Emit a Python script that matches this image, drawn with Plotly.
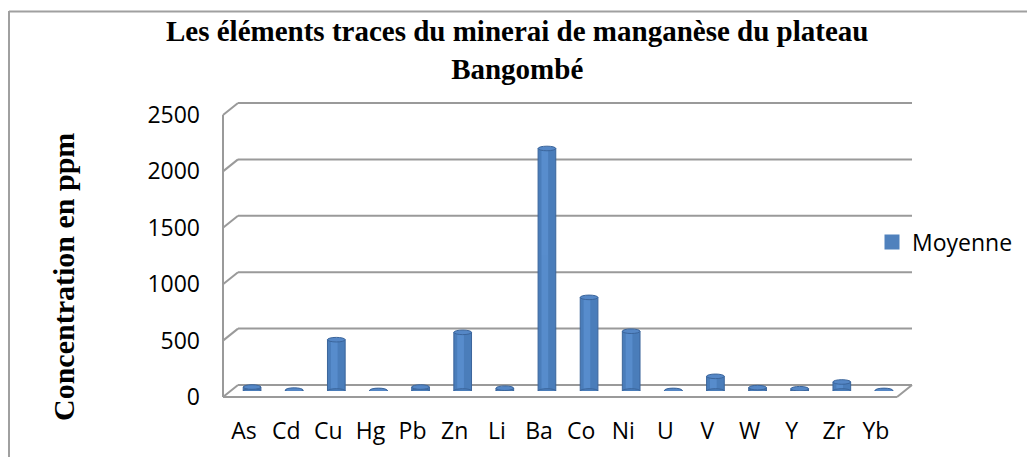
import plotly.graph_objects as go

# data (ppm)
elements = ["As", "Cd", "Cu", "Hg", "Pb", "Zn", "Li", "Ba", "Co", "Ni", "U", "V", "W", "Y", "Zr", "Yb"]
moyenne = [35, 8, 455, 5, 35, 520, 25, 2150, 830, 530, 5, 130, 30, 20, 80, 5]
y_ticks = [0, 500, 1000, 1500, 2000, 2500]

W, H = 1035, 457
OFF = 8                               # page body margin around the figure
Y_MAX = 2500
PLANE_W, PLANE_H = 674, 282          # pixel size of one wall
# left edge / zero line of the three depth planes (back wall, bars, front edge)
BACK = (238, 385)
MID = (231, 391)
FRONT = (223, 397)

TICK_FONT = dict(family="'Open Sans', sans-serif", size=23, color="black")
SERIF = "'Times New Roman', 'Liberation Serif', serif"
GRID = "#9a9a9a"
BAR = "#4A7DBA"
BAR_EDGE = "#3B659B"


def px(x):
    return (x - OFF) / W


def py(y):
    return 1 - (y - OFF) / H


def xdom(plane):
    return [px(plane[0]), px(plane[0] + PLANE_W)]


def ydom(plane):
    return [py(plane[1]), py(plane[1] - PLANE_H)]


def yval(plane, v):
    return py(plane[1] - v / Y_MAX * PLANE_H)


fig = go.Figure()

# cylinder body
fig.add_trace(go.Bar(
    x=elements, y=moyenne, name="Moyenne", width=0.42,
    marker=dict(color=BAR, line=dict(color=BAR_EDGE, width=1)),
    xaxis="x", yaxis="y", showlegend=False,
))
# highlight stripe for the rounded look
fig.add_trace(go.Bar(
    x=elements, y=moyenne, width=0.16, offset=-0.13,
    marker=dict(color="#5A8FD0", line=dict(width=0)), opacity=0.85,
    xaxis="x", yaxis="y", showlegend=False, hoverinfo="skip",
))
# legend entry with a bigger square swatch
fig.add_trace(go.Scatter(
    x=[None], y=[None], mode="markers", name="Moyenne",
    marker=dict(symbol="square", size=15, color="#4F81BD"),
    xaxis="x", yaxis="y", showlegend=True,
))
# invisible helpers so the front axes get drawn
fig.add_trace(go.Scatter(
    x=elements, y=moyenne, mode="markers", marker=dict(opacity=0),
    xaxis="x3", yaxis="y3", showlegend=False, hoverinfo="skip",
))

shapes = []
# cylinder end caps
cap = 2.3 / PLANE_H * Y_MAX
for i, v in enumerate(moyenne):
    shapes.append(dict(type="circle", xref="x", yref="y", x0=i - 0.21, x1=i + 0.21,
                       y0=-cap, y1=cap, fillcolor=BAR,
                       line=dict(color=BAR_EDGE, width=1), layer="above"))
    shapes.append(dict(type="circle", xref="x", yref="y", x0=i - 0.21, x1=i + 0.21,
                       y0=v - cap, y1=v + cap, fillcolor="#5587C6",
                       line=dict(color=BAR_EDGE, width=1), layer="above"))

# left wall: vertical edge, slanted ends of the gridlines, back wall gridlines
shapes.append(dict(type="line", xref="paper", yref="paper",
                   x0=px(FRONT[0]), x1=px(FRONT[0]), y0=yval(FRONT, 0), y1=yval(FRONT, Y_MAX),
                   line=dict(color=GRID, width=2), layer="below"))
for t in y_ticks:
    shapes.append(dict(type="line", xref="paper", yref="paper",
                       x0=px(FRONT[0]), x1=px(BACK[0]), y0=yval(FRONT, t), y1=yval(BACK, t),
                       line=dict(color=GRID, width=2), layer="below"))
    shapes.append(dict(type="line", xref="paper", yref="paper",
                       x0=px(BACK[0]), x1=px(BACK[0] + PLANE_W), y0=yval(BACK, t), y1=yval(BACK, t),
                       line=dict(color=GRID, width=2), layer="below"))
# floor: front edge and right slant
shapes.append(dict(type="line", xref="paper", yref="paper",
                   x0=px(FRONT[0]), x1=px(FRONT[0] + PLANE_W), y0=yval(FRONT, 0), y1=yval(FRONT, 0),
                   line=dict(color=GRID, width=2), layer="below"))
shapes.append(dict(type="line", xref="paper", yref="paper",
                   x0=px(FRONT[0] + PLANE_W), x1=px(BACK[0] + PLANE_W),
                   y0=yval(FRONT, 0), y1=yval(BACK, 0),
                   line=dict(color=GRID, width=2), layer="below"))
# chart area border (top and left only visible)
shapes.append(dict(type="line", xref="paper", yref="paper", x0=px(9), x1=1.02, y0=py(11.5), y1=py(11.5),
                   line=dict(color="#a0a0a0", width=2)))
shapes.append(dict(type="line", xref="paper", yref="paper", x0=px(9), x1=px(9), y0=py(11), y1=-0.05,
                   line=dict(color="#a0a0a0", width=2)))

cat_range = [-0.5, len(elements) - 0.5]
hidden = dict(visible=False, fixedrange=True, automargin=False)

fig.update_layout(
    width=W, height=H,
    margin=dict(l=0, r=0, t=0, b=0, autoexpand=False),
    paper_bgcolor="white", plot_bgcolor="rgba(0,0,0,0)",
    barmode="overlay",
    xaxis=dict(domain=xdom(MID), anchor="y", range=cat_range, **hidden),
    yaxis=dict(domain=ydom(MID), anchor="x", range=[0, Y_MAX], **hidden),
    xaxis3=dict(domain=xdom(FRONT), anchor="y3", range=cat_range, type="category",
                showgrid=False, showline=False, zeroline=False, ticks="", automargin=False,
                tickfont=TICK_FONT, ticklabelstandoff=18, fixedrange=True),
    yaxis3=dict(domain=ydom(FRONT), anchor="x3", range=[0, Y_MAX], tickvals=y_ticks,
                showgrid=False, showline=False, zeroline=False, ticks="", automargin=False,
                tickfont=TICK_FONT, ticklabelstandoff=22, fixedrange=True),
    shapes=shapes,
    annotations=[
        dict(text="<b>Les éléments traces du minerai de manganèse du plateau<br>Bangombé</b>",
             showarrow=False, xref="paper", yref="paper", x=px(517), y=py(13),
             xanchor="center", yanchor="top",
             font=dict(family=SERIF, size=29, color="black")),
        dict(text="<b>Concentration en ppm</b>", textangle=-90, showarrow=False,
             xref="paper", yref="paper", x=px(63), y=py(277), xanchor="center", yanchor="middle",
             font=dict(family=SERIF, size=30, color="black")),
    ],
    legend=dict(x=px(872), y=py(242), xanchor="left", yanchor="middle",
                font=TICK_FONT, bgcolor="rgba(0,0,0,0)", itemsizing="trace"),
    showlegend=True,
)

fig.write_html("out.html")
